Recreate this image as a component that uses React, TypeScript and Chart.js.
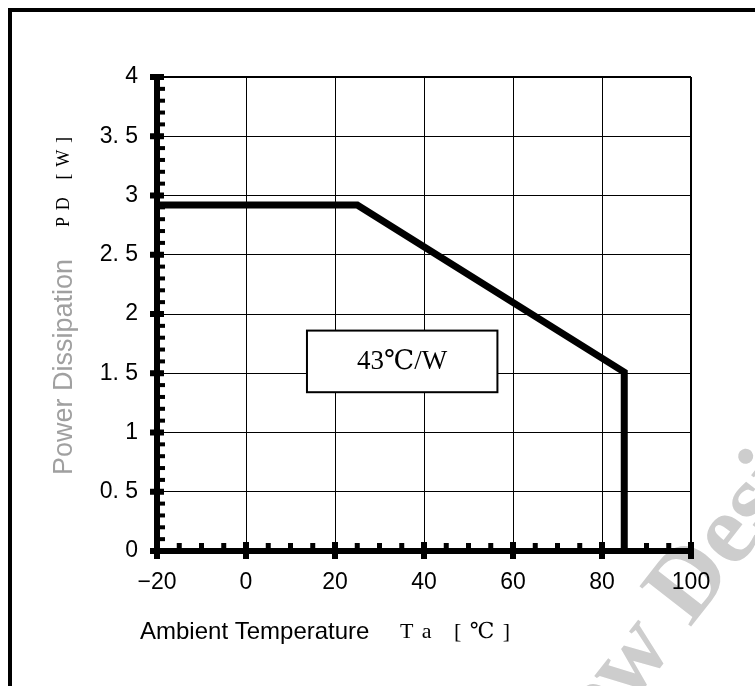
import React, { useEffect, useRef } from "react";
import { Chart, registerables } from "chart.js";

Chart.register(...registerables);

// ---- data ----
const xTickValues = [-20, 0, 20, 40, 60, 80, 100];
const xTickLabels = ["\u221220", "0", "20", "40", "60", "80", "100"];
const yTickValues = [0, 0.5, 1, 1.5, 2, 2.5, 3, 3.5, 4];
const yTickLabels = ["0", "0. 5", "1", "1. 5", "2", "2. 5", "3", "3. 5", "4"];
const ambientTemp = [-20, 25, 85, 85]; // Ta [°C]
const powerDissipation = [2.92, 2.92, 1.51, 0]; // PD [W]
const thermalResistanceLabel = "43\u2103/W";
const xTitle = "Ambient Temperature";
const xUnit = "Ta [\u2103]";
const yTitle = "Power Dissipation";
const yUnit = "PD [W]";
const watermarkHead = "Not Recommended for New ";
const watermarkTail = "Design";

const SANS = '"Liberation Sans", Arial, sans-serif';
const SERIF = '"Liberation Serif", "DejaVu Serif", "Times New Roman", serif';

function labelFor(values: number[], labels: string[], v: number) {
  const i = values.findIndex((t) => Math.abs(t - v) < 1e-6);
  return i >= 0 ? labels[i] : "";
}

function drawSpaced(ctx: CanvasRenderingContext2D, text: string, x: number, y: number, width: number) {
  const chars = Array.from(text);
  const widths = chars.map((c) => ctx.measureText(c).width);
  const natural = widths.reduce((a, b) => a + b, 0);
  const gap = chars.length > 1 ? (width - natural) / (chars.length - 1) : 0;
  let cx = x;
  ctx.textAlign = "left";
  chars.forEach((c, i) => {
    ctx.fillText(c, cx, y);
    cx += widths[i] + gap;
  });
}

const watermarkPlugin = {
  id: "watermark",
  beforeDraw(chart: any) {
    const { ctx } = chart;
    ctx.save();
    ctx.translate(690, 628);
    ctx.rotate((-52 * Math.PI) / 180);
    ctx.font = `bold 100px ${SERIF}`;
    ctx.fillStyle = "#cdcdcd";
    ctx.textBaseline = "alphabetic";
    ctx.textAlign = "left";
    ctx.fillText(watermarkTail, 0, 0);
    ctx.textAlign = "right";
    ctx.fillText(watermarkHead, 0, 0);
    ctx.restore();
  },
};

const axisPlugin = {
  id: "axisDecor",
  afterDatasetsDraw(chart: any) {
    const { ctx, chartArea: a, scales } = chart;
    const xs = scales.x;
    const ys = scales.y;
    const x0 = xs.getPixelForValue(xs.min);
    const y0 = ys.getPixelForValue(ys.min);
    ctx.save();
    ctx.fillStyle = "#000";
    // axis bars
    ctx.fillRect(x0 - 3, a.top - 3, 6, a.bottom - a.top + 6);
    ctx.fillRect(a.left - 3, y0 - 3, a.right - a.left + 6, 6);
    // x minor ticks every 5
    for (let i = 1; i < 24; i++) {
      if (i % 4 === 0) continue;
      const px = xs.getPixelForValue(xs.min + i * 5);
      ctx.fillRect(px - 2.5, y0 - 8, 5, 5);
    }
    // x major ticks
    xTickValues.forEach((v) => {
      const px = xs.getPixelForValue(v);
      ctx.fillRect(px - 3, y0 - 9, 6, 17);
    });
    // y minor ticks every 0.1
    for (let i = 1; i < 40; i++) {
      if (i % 5 === 0) continue;
      const py = ys.getPixelForValue(i / 10);
      ctx.fillRect(x0 + 3, py - 2, 5, 4);
    }
    // y major ticks
    yTickValues.forEach((v) => {
      const py = ys.getPixelForValue(v);
      ctx.fillRect(x0 - 7, py - 3, 14, 6);
    });
    ctx.restore();

    // annotation box "43℃/W"
    const bx0 = xs.getPixelForValue(13.7);
    const bx1 = xs.getPixelForValue(56.5);
    const by0 = ys.getPixelForValue(1.86);
    const by1 = ys.getPixelForValue(1.34);
    ctx.save();
    ctx.fillStyle = "#fff";
    ctx.fillRect(bx0, by0, bx1 - bx0, by1 - by0);
    ctx.strokeStyle = "#000";
    ctx.lineWidth = 2;
    ctx.strokeRect(bx0, by0, bx1 - bx0, by1 - by0);
    ctx.fillStyle = "#000";
    ctx.font = `27px ${SERIF}`;
    ctx.textAlign = "center";
    ctx.textBaseline = "middle";
    ctx.fillText(thermalResistanceLabel, (bx0 + bx1) / 2, (by0 + by1) / 2 + 1);
    ctx.restore();
  },
  afterDraw(chart: any) {
    const { ctx, chartArea: a } = chart;
    ctx.save();
    ctx.fillStyle = "#000";
    ctx.textBaseline = "middle";
    // x title
    ctx.font = `24px ${SANS}`;
    ctx.textAlign = "left";
    ctx.fillText(xTitle, a.left - 17, a.bottom + 81);
    ctx.font = `22px ${SERIF}`;
    drawSpaced(ctx, xUnit, a.left + 243, a.bottom + 81, 110);
    // y title (rotated)
    ctx.save();
    ctx.translate(a.left - 92, a.top + 290);
    ctx.rotate(-Math.PI / 2);
    ctx.font = `27px ${SANS}`;
    ctx.fillStyle = "#a0a0a0";
    ctx.textAlign = "center";
    ctx.fillText(yTitle, 0, 0);
    ctx.restore();
    ctx.save();
    ctx.translate(a.left - 93, a.top + 105);
    ctx.rotate(-Math.PI / 2);
    ctx.font = `18px ${SERIF}`;
    ctx.fillStyle = "#000";
    drawSpaced(ctx, yUnit, -45, 0, 90);
    ctx.restore();
    ctx.restore();
  },
};

export default function App() {
  const ref = useRef<HTMLCanvasElement | null>(null);

  useEffect(() => {
    if (!ref.current) return;
    const chart = new Chart(ref.current, {
      type: "scatter",
      data: {
        datasets: [
          {
            data: ambientTemp.map((x, i) => ({ x, y: powerDissipation[i] })),
            showLine: true,
            borderColor: "#000",
            backgroundColor: "#000",
            borderWidth: 7,
            pointRadius: 0,
            borderJoinStyle: "miter",
            borderCapStyle: "butt",
            fill: false,
            tension: 0,
          } as any,
        ],
      },
      options: {
        animation: false,
        responsive: false,
        maintainAspectRatio: false,
        devicePixelRatio: 1,
        layout: { padding: { top: 77, right: 64, left: 0, bottom: 0 } },
        plugins: {
          legend: { display: false },
          tooltip: { enabled: false },
          title: { display: false },
        },
        scales: {
          x: {
            type: "linear",
            min: -20,
            max: 100,
            ticks: {
              stepSize: 20,
              autoSkip: false,
              maxRotation: 0,
              padding: 18,
              color: "#000",
              font: { family: SANS, size: 23 },
              callback: (v: any) => labelFor(xTickValues, xTickLabels, Number(v)),
            },
            grid: {
              color: "#000",
              lineWidth: (c: any) => (c.index === xTickValues.length - 1 ? 2 : 1),
              drawTicks: false,
            },
            border: { display: false },
            afterFit: (s: any) => {
              s.height = 135;
            },
          },
          y: {
            type: "linear",
            min: 0,
            max: 4,
            ticks: {
              stepSize: 0.5,
              autoSkip: false,
              padding: 19,
              color: "#000",
              font: { family: SANS, size: 23 },
              callback: (v: any) => labelFor(yTickValues, yTickLabels, Number(v)),
            },
            grid: {
              color: "#000",
              lineWidth: (c: any) => (c.index === yTickValues.length - 1 ? 2 : 1),
              drawTicks: false,
            },
            border: { display: false },
            afterFit: (s: any) => {
              s.width = 157;
            },
          },
        },
      },
      plugins: [watermarkPlugin, axisPlugin],
    });
    return () => chart.destroy();
  }, []);

  return (
    <div
      style={{
        position: "fixed",
        left: 0,
        top: 0,
        width: 755,
        height: 686,
        overflow: "hidden",
        background: "#fff",
      }}
    >
      <div
        style={{
          position: "absolute",
          left: 8,
          top: 8,
          width: 800,
          height: 800,
          border: "4px solid #000",
          boxSizing: "border-box",
        }}
      />
      <canvas
        ref={ref}
        width={755}
        height={686}
        style={{ position: "absolute", left: 0, top: 0, width: 755, height: 686 }}
      />
    </div>
  );
}
